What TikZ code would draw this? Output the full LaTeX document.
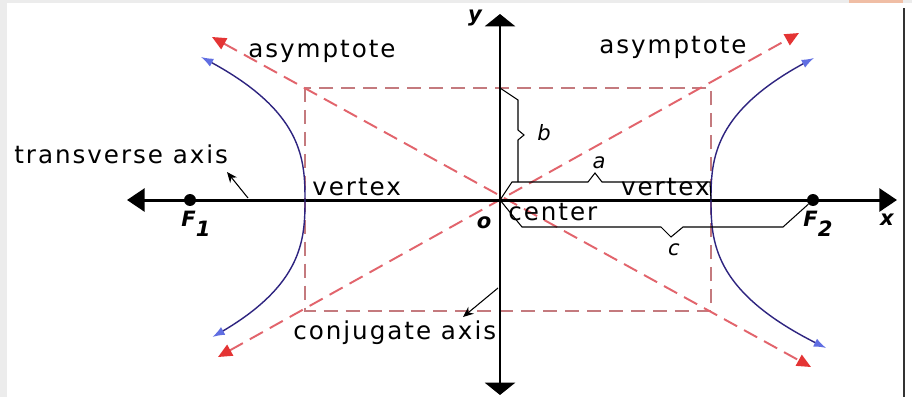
\documentclass[tikz,border=0pt]{standalone}
\usepackage{fontspec}
\setmainfont{DejaVu Sans}[LetterSpace=8]
\usetikzlibrary{arrows.meta}
\definecolor{asymred}{RGB}{226,100,108}
\definecolor{tipred}{RGB}{228,52,52}
\definecolor{boxred}{RGB}{196,122,126}
\definecolor{branchblue}{RGB}{46,36,128}
\definecolor{tipblue}{RGB}{96,110,226}
\definecolor{framegray}{RGB}{236,236,236}
\definecolor{tabpeach}{RGB}{240,190,165}

\begin{document}
\begin{tikzpicture}[x=0.02cm,y=0.02cm,
  haxis/.style={line width=1.7pt,{Triangle[length=10pt,width=13pt]}-{Triangle[length=10pt,width=13pt]}},
  vaxis/.style={line width=1.7pt,{Triangle[length=7pt,width=17pt]}-{Triangle[length=7pt,width=17pt]}},
  asym/.style={asymred,line width=1.1pt,dash pattern=on 8.5pt off 4.5pt,{Triangle[length=8pt,width=7pt,color=tipred]}-{Triangle[length=8pt,width=7pt,color=tipred]}},
  boxline/.style={boxred,line width=0.8pt,dash pattern=on 8pt off 4.5pt},
  branch/.style={branchblue,line width=0.8pt,{Latex[length=7pt,width=5pt,color=tipblue]}-{Latex[length=7pt,width=5pt,color=tipblue]}},
  bracepath/.style={line width=0.6pt},
  pointer/.style={line width=0.6pt,-{Stealth[length=6pt,width=5pt]}},
  dot/.style={circle,fill,inner sep=0pt,minimum size=6.8pt},
  txt/.style={font=\fontsize{14}{16}\selectfont,inner sep=0pt},
  var/.style={font=\fontsize{12}{14}\selectfont\bfseries\itshape,inner sep=0pt},
  ivar/.style={font=\fontsize{12}{14}\selectfont\itshape,inner sep=0pt}]
\useasboundingbox(-500,-197)rectangle(412,200);
\fill[framegray](-500,-197)rectangle(412,200);\fill[white](-493,-197)rectangle(412,197);
\fill[tabpeach](349,197)rectangle(403,200);\fill[black!80](403,-197)rectangle(405,192);
\coordinate(O)at(0,0);\coordinate(V1)at(-195,0);\coordinate(V2)at(211,0);
\coordinate(xL)at(-373,0);\coordinate(xR)at(397,0);\coordinate(yT)at(0,186);\coordinate(yB)at(0,-195);
\coordinate(boxTL)at(-195,112);\coordinate(boxBR)at(211,-111);\coordinate(bTop)at(0,112);
\coordinate(aLL)at(-282,-157);\coordinate(aUR)at(299,167);\coordinate(aUL)at(-288,163);\coordinate(aLR)at(311,-167);
\draw[boxline](boxTL)rectangle(boxBR);
\draw[asym](aLL)--(aUR);\draw[asym](aUL)--(aLR);
\draw[haxis](xL)--(xR);\draw[vaxis](yB)--(yT);
\node[dot](F1)at(-310,0){};\node[dot](F2)at(313,0){};
\draw[branch]plot[domain=143:-137,samples=50,smooth,variable=\t]({-195-104*(abs(\t)/143)^2.7},\t);
\draw[branch]plot[domain=142:-148,samples=50,smooth,variable=\t]({211+103*(abs(\t)/142)^2.7},\t);
\draw[bracepath](bTop)--++(18,-12)--++(0,-30)--++(6,-5)--++(-6,-5)--(18,18);
\draw[bracepath](O)--++(12,18)--++(76,0)--++(7,9)--++(7,-9)--++(108,0)--(V2);
\draw[bracepath](O)--++(22,-27)--++(139,0)--++(10,-10)--++(12,10)--++(100,0)--(F2);
\node[txt,anchor=base west](asymL)at(-252,143){asymptote};
\node[txt,anchor=base west](asymR)at(99,147){asymptote};
\node[txt,anchor=base west](trans)at(-486,37){transverse axis};
\node[txt,anchor=base west](vtxL)at(-188,5){vertex};
\node[txt,anchor=base east](vtxR)at(210,5){vertex};
\node[txt,anchor=base west](ctr)at(8,-20){center};
\node[txt,anchor=base west](conj)at(-207,-139){conjugate axis};
\node[var](ylbl)at(-25,182){y};\node[var](xlbl)at(387,-20){x};\node[var](olbl)at(-16,-23){o};
\node[var](F1lbl)at(-304,-24){F\raisebox{-6pt}{1}};\node[var](F2lbl)at(318,-24){F\raisebox{-6pt}{2}};
\node[ivar](albl)at(99,37){a};\node[ivar](blbl)at(44,67){b};\node[ivar](clbl)at(174,-50){c};
\coordinate(tFoot)at(-252,2);\coordinate(tTip)at(-273,28);\draw[pointer](tFoot)--(tTip);
\coordinate(cFoot)at(-2,-88);\coordinate(cTip)at(-37,-117);\draw[pointer](cFoot)--(cTip);
\end{tikzpicture}
\end{document}
